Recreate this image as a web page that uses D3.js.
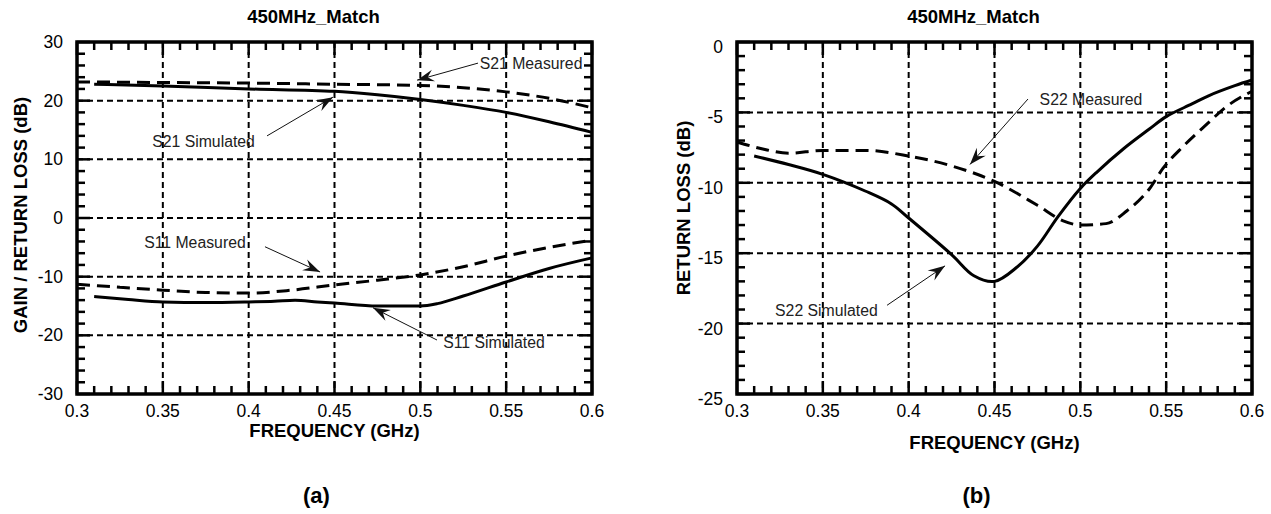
<!DOCTYPE html>
<html>
<head>
<meta charset="utf-8">
<script src="https://cdn.jsdelivr.net/npm/d3@7"></script>
<style>
body { margin: 0; background: #fff; }
svg { display: block; }
text { font-family: Arial, "Liberation Sans", sans-serif; fill: #000; }
</style>
</head>
<body>
<svg id="fig" width="1271" height="514"></svg>
<script>
// <data>
var freq_ticks = [0.3, 0.35, 0.4, 0.45, 0.5, 0.55, 0.6];
var gain_ticks = [-30, -20, -10, 0, 10, 20, 30];
var rl_ticks = [-25, -20, -15, -10, -5, 0];

// panel (a)
var s21_meas_f  = [0.3, 0.35, 0.4, 0.45, 0.5, 0.525, 0.55, 0.575, 0.6];
var s21_meas_db = [23.2, 23.1, 23.0, 22.8, 22.6, 22.2, 21.5, 20.4, 18.8];
var s21_sim_f   = [0.31, 0.35, 0.4, 0.45, 0.475, 0.5, 0.525, 0.55, 0.575, 0.6];
var s21_sim_db  = [22.8, 22.5, 22.0, 21.6, 21.0, 20.2, 19.2, 18.0, 16.4, 14.6];
var s11_meas_f  = [0.3, 0.325, 0.35, 0.375, 0.4, 0.425, 0.45, 0.475, 0.5, 0.525, 0.55, 0.575, 0.6];
var s11_meas_db = [-11.3, -11.8, -12.3, -12.7, -12.8, -12.3, -11.4, -10.6, -9.7, -8.3, -6.5, -5.0, -3.8];
var s11_sim_f   = [0.31, 0.33, 0.35, 0.375, 0.4, 0.415, 0.427, 0.44, 0.45, 0.475, 0.5, 0.51, 0.525, 0.55, 0.575, 0.6];
var s11_sim_db  = [-13.4, -13.9, -14.3, -14.4, -14.3, -14.2, -14.0, -14.3, -14.5, -15.0, -15.0, -14.6, -13.3, -10.9, -8.6, -6.8];

// panel (b)
var s22_meas_f  = [0.3, 0.315, 0.33, 0.35, 0.375, 0.4, 0.425, 0.45, 0.475, 0.49, 0.5, 0.515, 0.527, 0.541, 0.548, 0.56, 0.574, 0.585, 0.6];
var s22_meas_db = [-7.1, -7.6, -7.9, -7.7, -7.7, -8.1, -8.8, -9.9, -11.6, -12.7, -13.0, -12.9, -12.0, -10.3, -9.0, -7.4, -5.8, -4.6, -3.5];
var s22_sim_f   = [0.31, 0.33, 0.35, 0.375, 0.39, 0.4, 0.425, 0.438, 0.45, 0.463, 0.475, 0.487, 0.5, 0.51, 0.525, 0.54, 0.55, 0.565, 0.575, 0.59, 0.6];
var s22_sim_db  = [-8.1, -8.7, -9.4, -10.6, -11.5, -12.5, -15.1, -16.6, -17.0, -16.0, -14.5, -12.4, -10.4, -9.2, -7.6, -6.2, -5.3, -4.4, -3.8, -3.1, -2.7];

// annotations: label centre and arrow tail/head, in data units (GHz, dB)
var notes_a = [
  {text: "S21 Simulated", f: 0.3737, db: 13.1, f0: 0.4107, db0: 14.0, f1: 0.4491, db1: 20.6},
  {text: "S21 Measured",  f: 0.5645, db: 26.4, f0: 0.5336, db0: 26.4, f1: 0.4981, db1: 23.5},
  {text: "S11 Measured",  f: 0.3687, db: -4.1, f0: 0.4095, db0: -4.9, f1: 0.4416, db1: -9.2},
  {text: "S11 Simulated", f: 0.5429, db: -21.3, f0: 0.5097, db0: -20.8, f1: 0.4724, db1: -15.3}
];
var notes_b = [
  {text: "S22 Measured",  f: 0.5062, db: -4.1, f0: 0.4695, db0: -4.05, f1: 0.4357, db1: -8.7},
  {text: "S22 Simulated", f: 0.3521, db: -19.1, f0: 0.3874, db0: -18.7, f1: 0.4212, db1: -15.9}
];
// </data>

var svg = d3.select("#fig");

// arrow head for annotations
svg.append("defs").append("marker")
  .attr("id", "arrowhead")
  .attr("markerUnits", "userSpaceOnUse")
  .attr("viewBox", "-18 -7 20 14")
  .attr("refX", 0).attr("refY", 0)
  .attr("markerWidth", 20).attr("markerHeight", 14)
  .attr("orient", "auto")
  .append("path")
  .attr("d", "M0,0 L-17,-6 L-11,0 L-17,6 Z")
  .attr("fill", "#111");

function tick_label(d) {
  return String(+d.toFixed(2));
}

function draw_panel(p) {
  var g = svg.append("g");
  var x = d3.scaleLinear().domain([0.3, 0.6]).range([p.left, p.right]);
  var y = d3.scaleLinear().domain(p.ydomain).range([p.bottom, p.top]);

  // grid
  var grid = g.append("g")
    .attr("stroke", "#000").attr("stroke-width", 2)
    .attr("stroke-dasharray", "6,4").attr("fill", "none");
  freq_ticks.slice(1, -1).forEach(function(f) {
    grid.append("line").attr("x1", x(f)).attr("x2", x(f))
      .attr("y1", p.top).attr("y2", p.bottom);
  });
  p.yticks.slice(1, -1).forEach(function(v) {
    grid.append("line").attr("x1", p.left).attr("x2", p.right)
      .attr("y1", y(v)).attr("y2", y(v));
  });

  // inward ticks on all four sides
  var ticks = g.append("g").attr("stroke", "#000").attr("stroke-width", 2.5);
  d3.range(31).forEach(function(i) {
    var f = 0.3 + i * 0.01;
    var len = (i % 5 === 0) ? 13 : 8;
    ticks.append("line").attr("x1", x(f)).attr("x2", x(f))
      .attr("y1", p.bottom).attr("y2", p.bottom - len);
    ticks.append("line").attr("x1", x(f)).attr("x2", x(f))
      .attr("y1", p.top).attr("y2", p.top + len);
  });
  d3.range(p.ydomain[0], p.ydomain[1] + 0.001, p.ystep).forEach(function(v) {
    var len = (v % p.ymajor === 0) ? 13 : 8;
    ticks.append("line").attr("x1", p.left).attr("x2", p.left + len)
      .attr("y1", y(v)).attr("y2", y(v));
    ticks.append("line").attr("x1", p.right).attr("x2", p.right - len)
      .attr("y1", y(v)).attr("y2", y(v));
  });

  // series
  p.series.forEach(function(s) {
    var pts = s.f.map(function(f, i) { return [f, s.db[i]]; });
    var line = d3.line()
      .x(function(d) { return x(d[0]); })
      .y(function(d) { return y(d[1]); })
      .curve(s.curve || d3.curveMonotoneX);
    g.append("path").datum(pts)
      .attr("d", line)
      .attr("fill", "none")
      .attr("stroke", "#000")
      .attr("stroke-width", 3)
      .attr("stroke-linejoin", "round")
      .attr("stroke-dasharray", s.dashed ? "13,7" : null);
  });

  // frame
  g.append("rect")
    .attr("x", p.left).attr("y", p.top)
    .attr("width", p.right - p.left).attr("height", p.bottom - p.top)
    .attr("fill", "none").attr("stroke", "#000").attr("stroke-width", 3.5);

  // tick labels
  freq_ticks.forEach(function(f) {
    g.append("text")
      .attr("x", x(f)).attr("y", p.bottom + 23)
      .attr("text-anchor", "middle")
      .style("font-size", "17.5px")
      .text(tick_label(f));
  });
  p.yticks.forEach(function(v) {
    g.append("text")
      .attr("x", p.left - 14).attr("y", y(v) + 6 + p.ylab_dy)
      .attr("text-anchor", "end")
      .style("font-size", "17.5px")
      .text(v);
  });

  // titles and axis names
  g.append("text")
    .attr("x", (p.left + p.right) / 2 - 21).attr("y", 23)
    .attr("text-anchor", "middle")
    .style("font-size", "18.5px").style("font-weight", "bold")
    .text("450MHz_Match");
  g.append("text")
    .attr("x", (p.left + p.right) / 2).attr("y", p.xlabel_y)
    .attr("text-anchor", "middle")
    .style("font-size", "18.5px").style("font-weight", "bold")
    .text("FREQUENCY (GHz)");
  g.append("text")
    .attr("transform", "translate(" + p.ylabel_x + "," + p.ylabel_y + ") rotate(-90)")
    .attr("text-anchor", "middle")
    .style("font-size", "18.5px").style("font-weight", "bold")
    .text(p.ylabel);
  g.append("text")
    .attr("x", (p.left + p.right) / 2 - 18).attr("y", 503)
    .attr("text-anchor", "middle")
    .style("font-size", "22px").style("font-weight", "bold")
    .text(p.tag);

  // annotations
  p.notes.forEach(function(n) {
    g.append("line")
      .attr("x1", x(n.f0)).attr("y1", y(n.db0))
      .attr("x2", x(n.f1)).attr("y2", y(n.db1))
      .attr("stroke", "#111").attr("stroke-width", 1)
      .attr("marker-end", "url(#arrowhead)");
    g.append("text")
      .attr("x", x(n.f)).attr("y", y(n.db))
      .attr("dy", "0.35em")
      .attr("text-anchor", "middle")
      .style("font-size", "15.8px")
      .style("fill", "#222")
      .text(n.text);
  });
}

draw_panel({
  left: 77, right: 592, top: 42, bottom: 394,
  ydomain: [-30, 30], yticks: gain_ticks, ystep: 2, ymajor: 10,
  ylab_dy: 0,
  ylabel: "GAIN / RETURN LOSS (dB)", ylabel_x: 27, ylabel_y: 215,
  xlabel_y: 437, tag: "(a)",
  series: [
    {f: s21_meas_f, db: s21_meas_db, dashed: true},
    {f: s21_sim_f, db: s21_sim_db},
    {f: s11_meas_f, db: s11_meas_db, dashed: true},
    {f: s11_sim_f, db: s11_sim_db}
  ],
  notes: notes_a
});

draw_panel({
  left: 737, right: 1252, top: 42, bottom: 394,
  ydomain: [-25, 0], yticks: rl_ticks, ystep: 1, ymajor: 5,
  ylab_dy: 5,
  ylabel: "RETURN LOSS (dB)", ylabel_x: 690, ylabel_y: 208,
  xlabel_y: 449, tag: "(b)",
  series: [
    {f: s22_meas_f, db: s22_meas_db, dashed: true},
    {f: s22_sim_f, db: s22_sim_db, curve: d3.curveCatmullRom.alpha(0.5)}
  ],
  notes: notes_b
});
</script>
</body>
</html>
